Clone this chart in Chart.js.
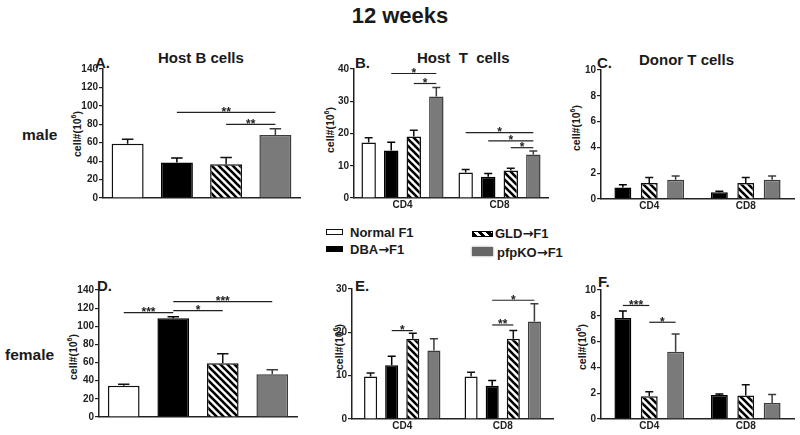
<!DOCTYPE html>
<html>
<head>
<meta charset="utf-8">
<script src="https://cdn.jsdelivr.net/npm/chart.js"></script>
<style>
  body { margin: 0; width: 800px; height: 435px; overflow: hidden; position: relative; background: #fff;
         font-family: "Liberation Sans", Arial, sans-serif; color: #1a1a1a; }
  canvas { position: absolute; }
  .t { position: absolute; font-weight: bold; white-space: nowrap; line-height: 1; }
  .t .arr { font-family: "DejaVu Sans", sans-serif; font-weight: bold; }
  .ylab { position: absolute; font-weight: bold; font-size: 10.5px; line-height: 1; white-space: nowrap;
          transform: translate(-50%, -50%) rotate(-90deg); }
  .ylab sup { font-size: 7px; line-height: 0; }
  .sw { position: absolute; box-sizing: border-box; }
</style>
</head>
<body>
<div class="t" style="left:0;width:800px;text-align:center;top:5px;font-size:22px">12 weeks</div>

<div class="t" style="left:158px;top:50px;font-size:15px">Host B cells</div>
<div class="t" style="left:417px;top:50px;font-size:15px">Host&nbsp; T&nbsp; cells</div>
<div class="t" style="left:639px;top:52px;font-size:15px">Donor T cells</div>

<div class="t" style="left:95px;top:55px;font-size:15px">A.</div>
<div class="t" style="left:355px;top:55px;font-size:15px">B.</div>
<div class="t" style="left:597px;top:55px;font-size:15px">C.</div>
<div class="t" style="left:97px;top:278px;font-size:15px">D.</div>
<div class="t" style="left:355px;top:278px;font-size:15px">E.</div>
<div class="t" style="left:598px;top:274px;font-size:15px">F.</div>

<div class="t" style="left:22px;top:127px;font-size:15.5px">male</div>
<div class="t" style="left:5px;top:347px;font-size:15.5px">female</div>

<div class="ylab" style="left:77px;top:134px">cell#(10<sup>6</sup>)</div>
<div class="ylab" style="left:330px;top:130px">cell#(10<sup>6</sup>)</div>
<div class="ylab" style="left:576px;top:128px">cell#(10<sup>6</sup>)</div>
<div class="ylab" style="left:73px;top:357px">cell#(10<sup>6</sup>)</div>
<div class="ylab" style="left:339px;top:347px">cell#(10<sup>6</sup>)</div>
<div class="ylab" style="left:582px;top:347px">cell#(10<sup>6</sup>)</div>

<!-- legend -->
<div class="sw" style="left:326px;top:229px;width:17px;height:6px;border:1.5px solid #111;background:#fff"></div>
<div class="t" style="left:350px;top:226px;font-size:13px" id="lg0"></div>
<div class="sw" style="left:326px;top:246px;width:17px;height:6px;background:#000"></div>
<div class="t" style="left:350px;top:243px;font-size:13px" id="lg1"></div>
<div class="sw" style="left:472px;top:231px;width:21px;height:6px;border:1px solid #000;background:repeating-linear-gradient(45deg,#000 0 3px,#fff 3px 6px)"></div>
<div class="t" style="left:495px;top:227px;font-size:13px" id="lg2"></div>
<div class="sw" style="left:472px;top:247px;width:21px;height:9px;background:#666;box-shadow:0 0 2px #888"></div>
<div class="t" style="left:497px;top:246px;font-size:13px" id="lg3"></div>

<canvas id="cA"></canvas>
<canvas id="cB"></canvas>
<canvas id="cC"></canvas>
<canvas id="cD"></canvas>
<canvas id="cE"></canvas>
<canvas id="cF"></canvas>

<script>
// ---- values (mean, SEM) ----
const groups = ['Normal F1', 'DBA→F1', 'GLD→F1', 'pfpKO→F1'];
const subsets = ['CD4', 'CD8'];

// A. male, host B cells (one bar per group)
const maleHostB    = [58.8, 38.4, 36.6, 68.5];
const maleHostBSem = [5.0, 5.1, 7.3, 6.6];
// B. male, host T cells, [CD4, CD8] per group
const maleHostT    = [[17.2, 7.9], [14.7, 6.6], [19.1, 8.5], [31.5, 13.5]];
const maleHostTSem = [[1.5, 0.9], [2.6, 1.0], [1.9, 0.7], [2.8, 1.1]];
// C. male, donor T cells (no Normal F1 group)
const maleDonorT    = [[0.9, 0.52], [1.24, 1.24], [1.5, 1.5]];
const maleDonorTSem = [[0.2, 0.08], [0.43, 0.43], [0.28, 0.28]];
// D. female, host B cells
const femaleHostB    = [34.5, 108.8, 59.2, 47.0];
const femaleHostBSem = [1.5, 1.8, 10.6, 5.2];
// E. female, host T cells
const femaleHostT    = [[9.8, 9.8], [12.4, 7.7], [18.5, 18.5], [15.8, 22.5]];
const femaleHostTSem = [[0.8, 1.0], [2.1, 1.2], [1.3, 1.9], [2.7, 4.1]];
// F. female, donor T cells
const femaleDonorT    = [[7.83, 1.86], [1.76, 1.83], [5.22, 1.24]];
const femaleDonorTSem = [[0.54, 0.08], [0.36, 0.82], [1.37, 0.66]];

// significance bars: [subset, group a, group b, height, stars]
const maleHostBSig   = [[0, 1, 3, 93, '**'], [0, 2, 3, 80, '**']];
const maleHostTSig   = [[0, 1, 3, 38.6, '*'], [0, 2, 3, 35.5, '*'],
                        [1, 0, 3, 20.3, '*'], [1, 1, 3, 17.7, '*'], [1, 2, 3, 15.6, '*']];
const maleDonorTSig  = [];
const femaleHostBSig = [[0, 0, 1, 115, '***'], [0, 1, 2, 117.2, '*'], [0, 1, 3, 127.2, '***']];
const femaleHostTSig = [[0, 1, 2, 20.4, '*'], [1, 1, 2, 21.7, '**'], [1, 1, 3, 27.4, '*']];
const femaleDonorTSig = [[0, 1, 2, 8.8, '***'], [0, 2, 3, 7.5, '*']];

// y tick labels
const bCellTicks = [0, 20, 40, 60, 80, 100, 120, 140];
const maleTTicks = [0, 10, 20, 30, 40];
const femaleTTicks = [0, 10, 20, 30];
const donorTicks = [0, 2, 4, 6, 8, 10];

// legend text; the arrow gets a heavier font like in the figure
groups.forEach((g, i) => {
    const el = document.getElementById('lg' + i);
    g.split('→').forEach((part, k) => {
        if (k > 0) {
            const a = document.createElement('span');
            a.className = 'arr'; a.textContent = '→';
            el.appendChild(a);
        }
        el.appendChild(document.createTextNode(part));
    });
});

function hatchPattern() {
    const c = document.createElement('canvas');
    c.width = 7; c.height = 7;
    const g = c.getContext('2d');
    g.fillStyle = '#fff'; g.fillRect(0, 0, 7, 7);
    g.strokeStyle = '#000'; g.lineWidth = 2.6;
    for (let k = -1; k <= 1; k++) {
        g.beginPath(); g.moveTo(k * 7 - 1, -1); g.lineTo(k * 7 + 8, 8); g.stroke();
    }
    return g.createPattern(c, 'repeat');
}
const fills = ['#ffffff', '#000000', hatchPattern(), '#7a7a7a'];
const edges = ['#111111', '#000000', '#111111', '#3c3c3c'];

const errorBars = {
    id: 'errorBars',
    afterDatasetsDraw(chart) {
        const ctx = chart.ctx, y = chart.scales.y;
        chart.data.datasets.forEach((ds, i) => {
            chart.getDatasetMeta(i).data.forEach((bar, j) => {
                const top = y.getPixelForValue(ds.data[j] + ds.sem[j]);
                const half = Math.max(4, bar.width * 0.18);
                ctx.save();
                ctx.strokeStyle = ds.borderColor; ctx.lineWidth = 1.5;
                ctx.beginPath();
                ctx.moveTo(bar.x, bar.y); ctx.lineTo(bar.x, top);
                ctx.moveTo(bar.x - half, top); ctx.lineTo(bar.x + half, top);
                ctx.stroke();
                ctx.restore();
            });
        });
    }
};

function sigPlugin(sigs) {
    return {
        id: 'sig',
        afterDraw(chart) {
            const ctx = chart.ctx, y = chart.scales.y;
            const metaOf = g => chart.getDatasetMeta(chart.data.datasets.findIndex(d => d.grp === g));
            sigs.forEach(([cat, a, b, h, stars]) => {
                const x1 = metaOf(a).data[cat].x, x2 = metaOf(b).data[cat].x;
                const py = y.getPixelForValue(h);
                ctx.save();
                ctx.strokeStyle = '#222'; ctx.lineWidth = 1.2;
                ctx.beginPath(); ctx.moveTo(x1, py); ctx.lineTo(x2, py); ctx.stroke();
                ctx.fillStyle = '#222';
                ctx.font = 'bold 12px "Liberation Sans", Arial, sans-serif';
                ctx.textAlign = 'center'; ctx.textBaseline = 'alphabetic';
                ctx.fillText(stars, (x1 + x2) / 2, py + 3.5);
                ctx.restore();
            });
        }
    };
}

// box = [left, right, top, bottom] of the plot area on the page
function panel(id, box, cats, grpIdx, vals, sems, sigs, ticks, catPct, barPct) {
    const [l, r, t, b] = box;
    const YW = 40, PT = 10, PR = 6, XH = 18;
    const canvas = document.getElementById(id);
    canvas.width = r - l + YW + PR;
    canvas.height = b - t + PT + XH;
    canvas.style.left = (l - YW) + 'px';
    canvas.style.top = (t - PT) + 'px';

    const datasets = grpIdx.map((g, k) => ({
        label: groups[g], grp: g, data: vals[k], sem: sems[k],
        backgroundColor: fills[g], borderColor: edges[g], borderWidth: 1.5,
        categoryPercentage: catPct, barPercentage: barPct
    }));

    new Chart(canvas.getContext('2d'), {
        type: 'bar',
        data: { labels: cats, datasets },
        options: {
            responsive: false, animation: false,
            layout: { padding: { top: PT, right: PR, left: 0, bottom: 0 } },
            plugins: { legend: { display: false }, tooltip: { enabled: false } },
            scales: {
                x: {
                    afterFit: s => { s.height = XH; },
                    grid: { display: true, drawOnChartArea: false, drawTicks: false },
                    border: { display: true, color: '#222', width: 1.5 },
                    ticks: { padding: 1, color: '#222', font: { size: 10, weight: 'bold', family: '"Liberation Sans", Arial' } }
                },
                y: {
                    min: ticks[0], max: ticks[ticks.length - 1],
                    afterFit: s => { s.width = YW; },
                    grid: { display: true, drawOnChartArea: false, drawTicks: true, tickLength: 4, color: '#222', lineWidth: 1.2 },
                    border: { display: true, color: '#222', width: 1.5 },
                    ticks: { stepSize: ticks[1] - ticks[0], padding: 1, color: '#222',
                             font: { size: 10, weight: 'bold', family: '"Liberation Sans", Arial' } }
                }
            }
        },
        plugins: [errorBars, sigPlugin(sigs)]
    });
}

const one = a => a.map(v => [v]);

panel('cA', [103, 300, 69, 198], [''], [0, 1, 2, 3], one(maleHostB), one(maleHostBSem), maleHostBSig, bCellTicks, 1.0, 0.65);
panel('cB', [354, 548, 69, 198], subsets, [0, 1, 2, 3], maleHostT, maleHostTSem, maleHostTSig, maleTTicks, 0.93, 0.64);
panel('cC', [601, 794, 70, 199], subsets, [1, 2, 3], maleDonorT, maleDonorTSem, maleDonorTSig, donorTicks, 0.82, 0.64);
panel('cD', [99, 297, 290, 417], [''], [0, 1, 2, 3], one(femaleHostB), one(femaleHostBSem), femaleHostBSig, bCellTicks, 1.0, 0.64);
panel('cE', [352, 553, 289, 419], subsets, [0, 1, 2, 3], femaleHostT, femaleHostTSem, femaleHostTSig, femaleTTicks, 0.84, 0.62);
panel('cF', [601, 794, 290, 419], subsets, [1, 2, 3], femaleDonorT, femaleDonorTSem, femaleDonorTSig, donorTicks, 0.82, 0.64);
</script>
</body>
</html>
